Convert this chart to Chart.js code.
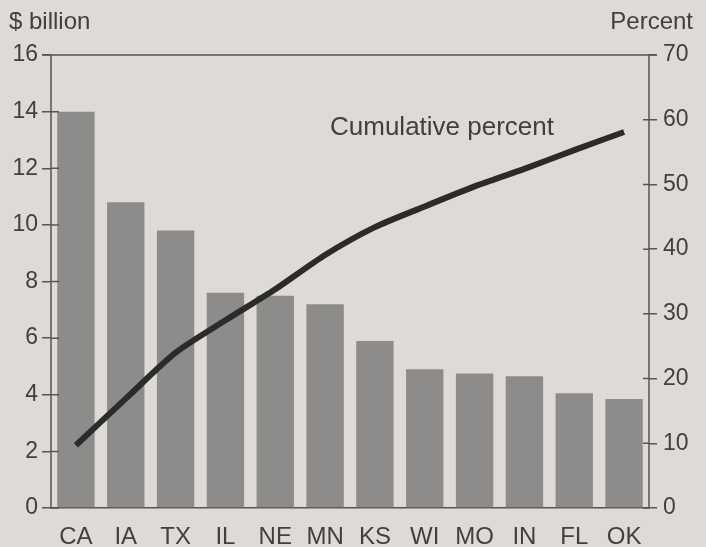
<!DOCTYPE html>
<html>
<head>
<meta charset="utf-8">
<script src="https://cdn.jsdelivr.net/npm/chart.js@4"></script>
<style>
  html, body { margin: 0; padding: 0; background: #dedbd6; }
  #wrap { width: 706px; height: 547px; }
</style>
</head>
<body>
<div id="wrap"><canvas id="chart" width="706" height="547"></canvas></div>
<script>
const states = ["CA", "IA", "TX", "IL", "NE", "MN", "KS", "WI", "MO", "IN", "FL", "OK"];
const billions = [14.0, 10.8, 9.8, 7.6, 7.5, 7.2, 5.9, 4.9, 4.75, 4.65, 4.05, 3.85];
const cumulativePct = [9.7, 16.9, 24.0, 29.0, 33.8, 39.1, 43.4, 46.6, 49.7, 52.4, 55.3, 58.1];
const leftTicks = [0, 2, 4, 6, 8, 10, 12, 14, 16];
const rightTicks = [0, 10, 20, 30, 40, 50, 60, 70];

const ink = "#404040";
const font = "Liberation Sans, Arial, Helvetica, sans-serif";

// frame, inner tick marks and the axis captions
const decor = {
  id: "decor",
  afterDraw(chart) {
    const { ctx, chartArea: a } = chart;
    const yl = chart.scales.y, yr = chart.scales.y2;
    ctx.save();
    ctx.strokeStyle = "#555";
    ctx.lineWidth = 1.5;
    ctx.beginPath();
    ctx.moveTo(a.left - 9, a.top); ctx.lineTo(a.right + 8, a.top);
    ctx.moveTo(a.left, a.top); ctx.lineTo(a.left, a.bottom);
    ctx.moveTo(a.right, a.top); ctx.lineTo(a.right, a.bottom);
    leftTicks.forEach(v => {
      const y = yl.getPixelForValue(v);
      ctx.moveTo(a.left, y); ctx.lineTo(a.left + 8, y);
    });
    rightTicks.forEach(v => {
      const y = yr.getPixelForValue(v);
      ctx.moveTo(a.right - 6, y); ctx.lineTo(a.right, y);
    });
    ctx.stroke();

    ctx.fillStyle = ink;
    ctx.font = "24px " + font;
    ctx.textBaseline = "middle";
    ctx.textAlign = "left";
    ctx.fillText("$ billion", 9, 22);
    ctx.textAlign = "right";
    ctx.fillText("Percent", 693, 22);
    ctx.font = "26px " + font;
    ctx.textAlign = "left";
    ctx.fillText("Cumulative percent", 330, 128);
    ctx.restore();
  }
};

new Chart(document.getElementById("chart"), {
  data: {
    labels: states,
    datasets: [
      {
        type: "line",
        data: cumulativePct,
        yAxisID: "y2",
        borderColor: "#2b2b2b",
        borderWidth: 6,
        pointRadius: 0,
        tension: 0.25,
        order: 0
      },
      {
        type: "bar",
        data: billions,
        yAxisID: "y",
        backgroundColor: "#8e8c8a",
        barPercentage: 0.75,
        categoryPercentage: 1.0,
        order: 1
      }
    ]
  },
  options: {
    responsive: false,
    animation: false,
    layout: { padding: { top: 55, left: 0, right: 0, bottom: 0 } },
    plugins: { legend: { display: false }, tooltip: { enabled: false } },
    scales: {
      x: {
        grid: { display: false, drawTicks: false },
        border: { color: "#555", width: 1.5 },
        ticks: { color: ink, font: { size: 24, family: font }, padding: 15, maxRotation: 0 },
        afterFit: s => { s.height = 39; }
      },
      y: {
        position: "left",
        min: 0, max: 16,
        afterBuildTicks: s => { s.ticks = leftTicks.map(v => ({ value: v })); },
        grid: { drawOnChartArea: false, tickLength: 9, color: "#555", lineWidth: 1.5 },
        border: { display: false },
        ticks: { color: ink, font: { size: 23, family: font }, padding: 4 },
        afterFit: s => { s.width = 51; }
      },
      y2: {
        position: "right",
        min: 0, max: 70,
        afterBuildTicks: s => { s.ticks = rightTicks.map(v => ({ value: v })); },
        grid: { drawOnChartArea: false, tickLength: 8, color: "#555", lineWidth: 1.5 },
        border: { display: false },
        ticks: { color: ink, font: { size: 23, family: font }, padding: 6 },
        afterFit: s => { s.width = 57; }
      }
    }
  },
  plugins: [decor]
});
</script>
</body>
</html>
